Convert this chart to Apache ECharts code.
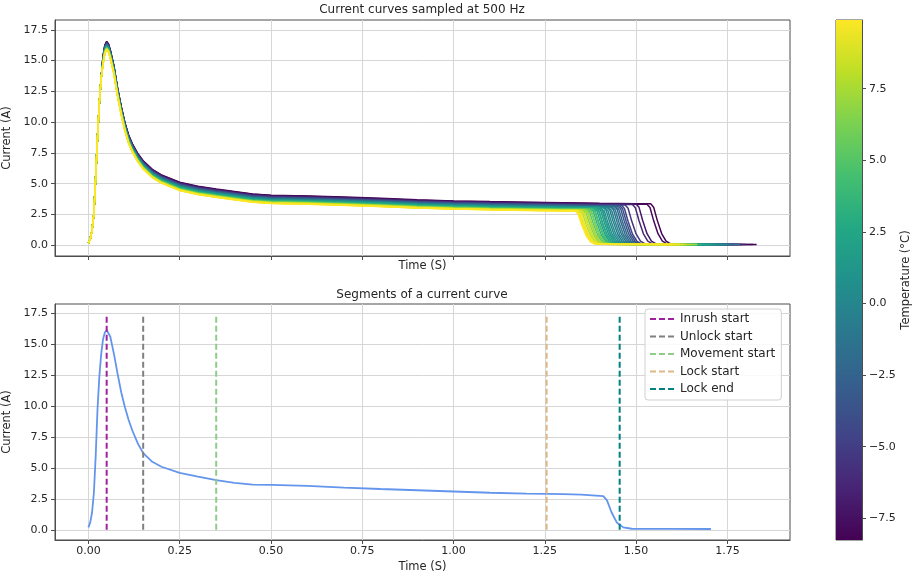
<!DOCTYPE html>
<html><head><meta charset="utf-8">
<script src="https://cdn.jsdelivr.net/npm/echarts@6/dist/echarts.min.js"></script>
<style>html,body{margin:0;padding:0;background:#fff}#c{width:913px;height:576px}</style>
</head><body><div id="c"></div>
<script>
// ---- tick labels ----
const xTicks = [0, 0.25, 0.5, 0.75, 1.0, 1.25, 1.5, 1.75];
const yTicks = [0, 2.5, 5, 7.5, 10, 12.5, 15, 17.5];
const cbTicks = [-7.5, -5, -2.5, 0, 2.5, 5, 7.5];
const tempMin = -8.26, tempMax = 9.9;

// ---- top panel: reference shape of the band (middle of band) ----
const topBaseT = [0, 0.005, 0.01, 0.015, 0.02, 0.025, 0.03, 0.035, 0.04, 0.045, 0.05, 0.055, 0.06, 0.07, 0.08, 0.09, 0.1, 0.11, 0.12, 0.135, 0.15, 0.175, 0.2, 0.25, 0.3, 0.35, 0.4, 0.45, 0.5, 0.6, 0.7, 0.8, 0.9, 1.0, 1.1, 1.2, 1.3, 1.4, 1.5, 1.56];
const topBaseI = [0.15, 0.5, 1.2, 2.6, 5.6, 8.8, 11.6, 13.6, 15.0, 15.9, 16.2, 16.0, 15.5, 14.2, 12.4, 10.9, 9.6, 8.6, 7.9, 7.1, 6.5, 5.8, 5.35, 4.75, 4.42, 4.2, 4.0, 3.8, 3.7, 3.64, 3.55, 3.45, 3.33, 3.24, 3.18, 3.13, 3.09, 3.04, 3.0, 2.97];

// ---- top panel: individual curves (temperature, level shift, drop time, end time) ----
const curveTemp   = [-8.26, -7.8, -7.1, -6.2, -5.4, -4.6, -3.9, -3.2, -2.6, -2.0, -1.5, -1.0, -0.6, -0.2, 0.1, 0.4, 0.7, 0.9, 1.2, 1.5, 1.8, 2.1, 2.5, 2.9, 3.4, 4.0, 4.6, 5.2, 5.8, 6.3, 6.8, 7.2, 7.6, 8.0, 8.4, 8.8, 9.1, 9.4, 9.7, 9.9];
const curveOffset = [0.36, 0.33, 0.30, 0.26, 0.22, 0.20, 0.17, 0.15, 0.12, 0.10, 0.08, 0.06, 0.05, 0.03, 0.02, 0.0, -0.01, -0.02, -0.03, -0.04, -0.05, -0.07, -0.08, -0.10, -0.12, -0.14, -0.16, -0.18, -0.20, -0.21, -0.22, -0.23, -0.24, -0.25, -0.26, -0.27, -0.28, -0.29, -0.30, -0.31];
const curveDrop   = [1.54, 1.53, 1.50, 1.49, 1.47, 1.46, 1.455, 1.45, 1.44, 1.445, 1.43, 1.435, 1.42, 1.425, 1.41, 1.415, 1.40, 1.405, 1.395, 1.39, 1.40, 1.385, 1.38, 1.39, 1.375, 1.37, 1.38, 1.365, 1.36, 1.37, 1.355, 1.35, 1.36, 1.345, 1.34, 1.35, 1.338, 1.335, 1.34, 1.333];
const curveEnd    = [1.83, 1.82, 1.79, 1.80, 1.77, 1.76, 1.78, 1.75, 1.77, 1.74, 1.785, 1.73, 1.76, 1.72, 1.75, 1.71, 1.74, 1.70, 1.72, 1.69, 1.71, 1.68, 1.70, 1.67, 1.68, 1.66, 1.67, 1.65, 1.66, 1.64, 1.65, 1.63, 1.667, 1.62, 1.64, 1.61, 1.63, 1.60, 1.62, 1.60];
const dropDT   = [0, 0.008, 0.018, 0.03, 0.042, 0.056];
const dropFrac = [1.0, 0.92, 0.6, 0.28, 0.1, 0.025];
const tailLevel = 0.05;

// ---- bottom panel: one current curve ----
const segT = [0, 0.005, 0.01, 0.015, 0.02, 0.025, 0.03, 0.035, 0.04, 0.045, 0.05, 0.055, 0.06, 0.07, 0.08, 0.09, 0.1, 0.11, 0.12, 0.135, 0.15, 0.175, 0.2, 0.25, 0.3, 0.35, 0.4, 0.45, 0.5, 0.55, 0.6, 0.7, 0.8, 0.9, 1.0, 1.1, 1.2, 1.255, 1.3, 1.35, 1.41, 1.42, 1.433, 1.447, 1.465, 1.488, 1.6, 1.705];
const segI = [0.2, 0.6, 1.4, 3.0, 6.0, 9.8, 12.4, 14.2, 15.4, 15.95, 16.15, 16.0, 15.6, 14.2, 12.6, 11.1, 9.9, 8.9, 8.05, 7.0, 6.2, 5.5, 5.1, 4.6, 4.3, 4.02, 3.8, 3.66, 3.63, 3.6, 3.55, 3.42, 3.3, 3.2, 3.1, 3.0, 2.92, 2.9, 2.88, 2.84, 2.72, 2.4, 1.4, 0.6, 0.2, 0.09, 0.08, 0.07];

const markerNames = ['Inrush start', 'Unlock start', 'Movement start', 'Lock start', 'Lock end'];
const markerTimes = [0.05, 0.15, 0.35, 1.255, 1.455];
const markerTop = 17.39;
const markerColors = ['#a0219f', '#808080', '#8fcc8a', '#deb887', '#008080'];

// ---- styling ----
const viridis = ['#440154', '#482475', '#414487', '#355f8d', '#2a788e', '#21918c', '#22a884', '#44bf70', '#7ad151', '#bddf26', '#fde725'];
function hexToRgb(h) { return [parseInt(h.slice(1, 3), 16), parseInt(h.slice(3, 5), 16), parseInt(h.slice(5, 7), 16)]; }
function viridisColor(v) {
  const f = Math.max(0, Math.min(1, v)) * (viridis.length - 1);
  const i = Math.min(viridis.length - 2, Math.floor(f));
  const r = f - i;
  const a = hexToRgb(viridis[i]), b = hexToRgb(viridis[i + 1]);
  const c = a.map((x, k) => Math.round(x + (b[k] - x) * r));
  return 'rgb(' + c.join(',') + ')';
}
const FONT = 'DejaVu Sans';
const TXT = '#262626';
const AX = '#4d4d4d';
const GRIDC = '#d6d6d6';

function valueAxis(opts) {
  return Object.assign({
    type: 'value',
    axisLine: { show: true, onZero: false, lineStyle: { color: AX, width: 1 } },
    axisTick: { show: true, inside: false, length: 4, lineStyle: { color: AX } },
    splitLine: { show: true, lineStyle: { color: GRIDC, width: 1 } },
    axisLabel: { color: TXT, fontFamily: FONT, fontSize: 11 },
    nameTextStyle: { color: TXT, fontFamily: FONT, fontSize: 11.5 }
  }, opts);
}

const series = [];
// top curves
for (let c = 0; c < curveTemp.length; c++) {
  const pts = [];
  const off = curveOffset[c];
  let last = 0;
  for (let k = 0; k < topBaseT.length; k++) {
    if (topBaseT[k] >= curveDrop[c]) break;
    const v = topBaseI[k] + (topBaseT[k] >= 0.04 ? off : 0);
    pts.push([topBaseT[k], v]);
    last = v;
  }
  for (let k = 0; k < dropDT.length; k++) pts.push([curveDrop[c] + dropDT[k], Math.max(tailLevel, last * dropFrac[k])]);
  pts.push([curveEnd[c], tailLevel]);
  series.push({
    type: 'line', xAxisIndex: 0, yAxisIndex: 0, data: pts, symbol: 'none', silent: true,
    lineStyle: { width: 1.5, color: viridisColor((curveTemp[c] - tempMin) / (tempMax - tempMin)) },
    z: 2
  });
}
// bottom curve
series.push({
  type: 'line', xAxisIndex: 1, yAxisIndex: 1, symbol: 'none', silent: true,
  data: segT.map((t, i) => [t, segI[i]]),
  lineStyle: { width: 1.8, color: '#6495ed' }, z: 2
});
// markers
markerNames.forEach((n, i) => {
  series.push({
    name: n, type: 'line', xAxisIndex: 1, yAxisIndex: 1, symbol: 'none', silent: true,
    data: [[markerTimes[i], 0], [markerTimes[i], markerTop]],
    itemStyle: { color: markerColors[i] },
    lineStyle: { width: 2, type: [6, 3], color: markerColors[i] }, z: 3
  });
});
// colorbar
series.push({
  type: 'line', xAxisIndex: 2, yAxisIndex: 2, symbol: 'none', silent: true, data: [],
  markArea: {
    silent: true,
    data: [[{ coord: [0, tempMin] }, { coord: [1, tempMax] }]],
    itemStyle: {
      color: new echarts.graphic.LinearGradient(0, 0, 0, 1,
        viridis.slice().reverse().map((col, i) => ({ offset: i / (viridis.length - 1), color: col })))
    }
  }
});

const gridBase = { show: true, borderColor: AX, borderWidth: 1, containLabel: false, outerBoundsMode: 'none' };
const option = {
  animation: false,
  backgroundColor: '#fff',
  grid: [
    Object.assign({ left: 55, top: 20, width: 735, height: 236 }, gridBase),
    Object.assign({ left: 55, top: 304, width: 735, height: 236 }, gridBase),
    Object.assign({ left: 836, top: 20, width: 26, height: 520 }, gridBase)
  ],
  xAxis: [
    valueAxis({ gridIndex: 0, min: -0.0915, max: 1.9215, axisTick: { show: true, length: 4, lineStyle: { color: AX }, customValues: xTicks },
      axisLabel: { show: false, customValues: xTicks }, name: 'Time (S)', nameLocation: 'middle', nameGap: 4 }),
    valueAxis({ gridIndex: 1, min: -0.0915, max: 1.9215, axisTick: { show: true, length: 4, lineStyle: { color: AX }, customValues: xTicks },
      axisLabel: { color: TXT, fontFamily: FONT, fontSize: 11, customValues: xTicks, formatter: v => v.toFixed(2), margin: 6 },
      name: 'Time (S)', nameLocation: 'middle', nameGap: 21 }),
    { type: 'value', gridIndex: 2, min: 0, max: 1, show: false }
  ],
  yAxis: [
    valueAxis({ gridIndex: 0, min: -0.88, max: 18.3, axisTick: { show: true, length: 4, lineStyle: { color: AX }, customValues: yTicks },
      axisLabel: { color: TXT, fontFamily: FONT, fontSize: 11, customValues: yTicks, formatter: v => v.toFixed(1), margin: 7 },
      name: 'Current (A)', nameLocation: 'middle', nameGap: 36, nameRotate: 90 }),
    valueAxis({ gridIndex: 1, min: -0.82, max: 18.25, axisTick: { show: true, length: 4, lineStyle: { color: AX }, customValues: yTicks },
      axisLabel: { color: TXT, fontFamily: FONT, fontSize: 11, customValues: yTicks, formatter: v => v.toFixed(1), margin: 7 },
      name: 'Current (A)', nameLocation: 'middle', nameGap: 36, nameRotate: 90 }),
    valueAxis({ gridIndex: 2, position: 'right', min: tempMin, max: tempMax, splitLine: { show: false },
      axisTick: { show: true, length: 4, lineStyle: { color: AX }, customValues: cbTicks },
      axisLabel: { color: TXT, fontFamily: FONT, fontSize: 11, customValues: cbTicks, margin: 7,
        formatter: v => (v < 0 ? '\u2212' : '') + Math.abs(v).toFixed(1) },
      name: 'Temperature (\u00B0C)', nameLocation: 'middle', nameGap: 38, nameRotate: 90 })
  ],
  legend: {
    data: markerNames, orient: 'vertical', left: 645, top: 309,
    itemWidth: 25, itemHeight: 12, itemGap: 5.5,
    itemStyle: { color: 'rgba(0,0,0,0)', borderColor: 'rgba(0,0,0,0)', borderWidth: 0 },
    textStyle: { color: TXT, fontFamily: FONT, fontSize: 12, lineHeight: 12 },
    backgroundColor: 'rgba(255,255,255,0.85)', borderColor: '#d0d0d0', borderWidth: 1, borderRadius: 3,
    padding: [4, 6, 5, 4], selectedMode: false
  },
  graphic: [
    { type: 'text', x: 422, y: 10, style: { text: 'Current curves sampled at 500 Hz', fill: TXT, font: '12px "DejaVu Sans"', align: 'center', verticalAlign: 'middle' } },
    { type: 'text', x: 422, y: 295, style: { text: 'Segments of a current curve', fill: TXT, font: '12px "DejaVu Sans"', align: 'center', verticalAlign: 'middle' } }
  ],
  series: series
};
const chart = echarts.init(document.getElementById('c'), null, { renderer: 'canvas' });
chart.setOption(option);
</script></body></html>
